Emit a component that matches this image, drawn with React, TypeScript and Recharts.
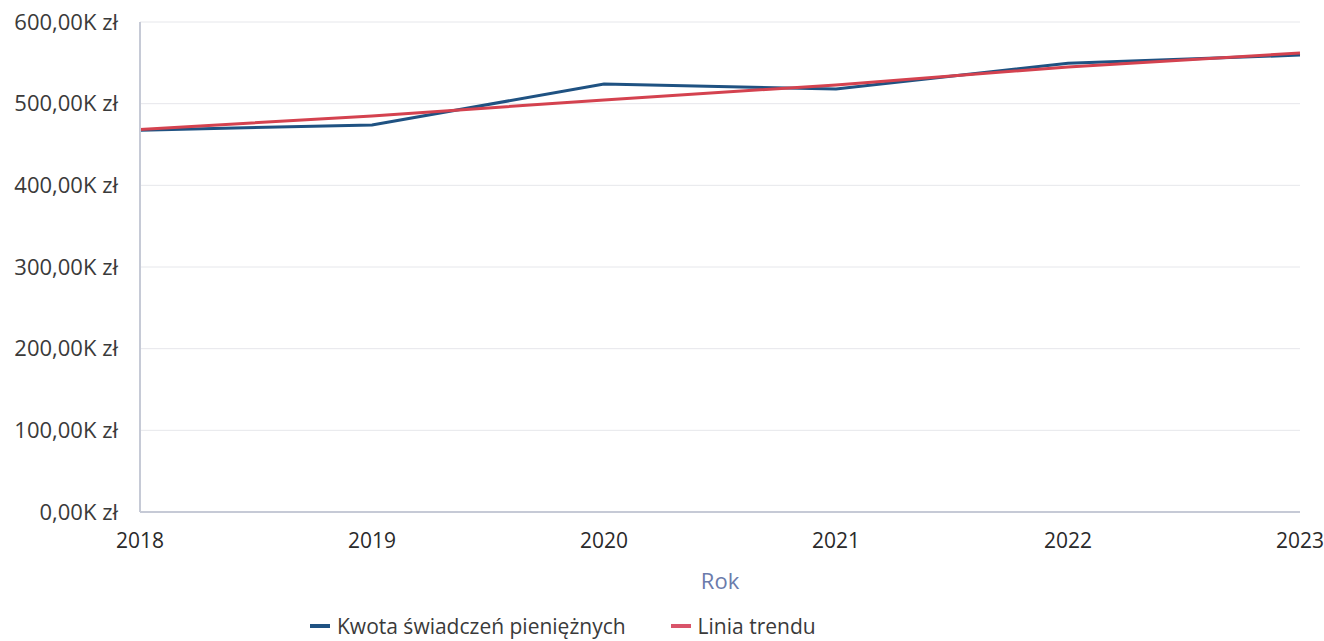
import { LineChart, Line, XAxis, YAxis, CartesianGrid, Legend } from 'recharts';

// ── Data (values in thousands of zł) ──────────────────────────────────────────

const years = ['2018', '2019', '2020', '2021', '2022', '2023'];
const benefitAmounts = [467.5, 474, 524, 518, 549.5, 559.5];
const trendLine = [468.5, 485, 504.5, 523, 545, 562];
const yTicks = [0, 100, 200, 300, 400, 500, 600];

const data = years.map((year, i) => ({
  year,
  amount: benefitAmounts[i],
  trend: trendLine[i],
}));

const FONT = '"Open Sans", "Noto Sans", sans-serif';
const BLUE = '#1f5282';
const RED = '#d4424f';

const formatK = (v: number) => `${v.toFixed(2).replace('.', ',')}K zł`;

// ── Legend ────────────────────────────────────────────────────────────────────

function ChartLegend() {
  const items = [
    { label: 'Kwota świadczeń pieniężnych', color: BLUE },
    { label: 'Linia trendu', color: '#d9546a' },
  ];
  return (
    <div style={{ display: 'flex', alignItems: 'center', height: 26, fontFamily: FONT, fontSize: 21, color: '#3a3a3a' }}>
      {items.map((it) => (
        <span key={it.label} style={{ display: 'flex', alignItems: 'center', marginRight: 45 }}>
          <span style={{ display: 'inline-block', width: 20, height: 4, background: it.color, marginRight: 7 }} />
          {it.label}
        </span>
      ))}
    </div>
  );
}

export default function App() {
  return (
    <div style={{ position: 'absolute', left: 0, top: 0, background: '#fff' }}>
      <LineChart
        width={1324}
        height={641}
        data={data}
        margin={{ top: 22, right: 24, bottom: 2, left: 10 }}
      >
        <CartesianGrid stroke="#e6e7eb" vertical={false} />
        <XAxis
          dataKey="year"
          height={101}
          tickLine={false}
          tickSize={0}
          tickMargin={21}
          axisLine={{ stroke: '#c6cad6', strokeWidth: 2 }}
          tick={{ fill: '#2a2a2a', fontSize: 21, fontFamily: FONT }}
          interval={0}
          label={{ value: 'Rok', position: 'insideBottom', offset: 24, fill: '#6b7bab', fontSize: 22, fontFamily: FONT }}
        />
        <YAxis
          domain={[0, 600]}
          ticks={yTicks}
          tickFormatter={formatK}
          width={130}
          tickLine={false}
          tickSize={0}
          tickMargin={22}
          axisLine={{ stroke: '#c6cad6', strokeWidth: 2 }}
          tick={{ fill: '#3a3a3a', fontSize: 22, fontFamily: FONT }}
        />
        <Legend
          verticalAlign="bottom"
          align="left"
          wrapperStyle={{ left: 310, width: 'auto' }}
          content={() => <ChartLegend />}
        />
        <Line
          type="linear"
          dataKey="amount"
          name="Kwota świadczeń pieniężnych"
          stroke={BLUE}
          strokeWidth={3}
          dot={false}
          isAnimationActive={false}
        />
        <Line
          type="linear"
          dataKey="trend"
          name="Linia trendu"
          stroke={RED}
          strokeWidth={3}
          dot={false}
          isAnimationActive={false}
        />
      </LineChart>
    </div>
  );
}
